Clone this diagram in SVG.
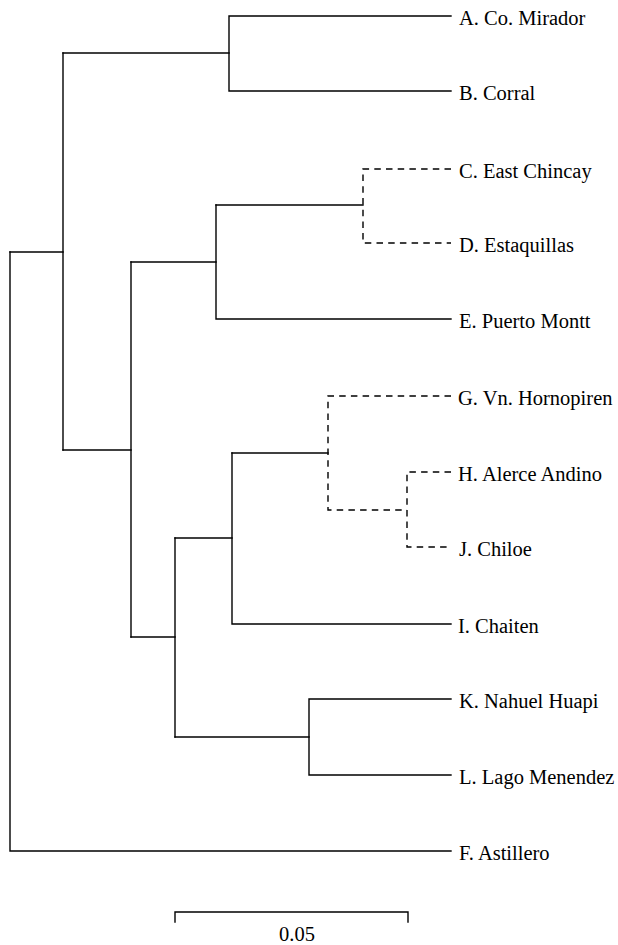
<svg xmlns="http://www.w3.org/2000/svg" width="618" height="945" viewBox="0 0 618 945">
<style>
.b{fill:none;stroke:#000;stroke-width:1.4;stroke-linecap:square}
.d{fill:none;stroke:#000;stroke-width:1.4;stroke-dasharray:6.5 5.2}
</style>
<rect width="618" height="945" fill="#fff"/>
<g id="connectors">
<path class="b" d="M451,16H229V91H451"/>
<path class="b" d="M63,53H229"/>
<path class="b" d="M216,205H363"/>
<path class="d" d="M451,169H363V243H451"/>
<path class="b" d="M216,205V319H451"/>
<path class="b" d="M131,262H216"/>
<path class="d" d="M451,396H328V510H407"/>
<path class="d" d="M451,472H407V547H451"/>
<path class="b" d="M232,453H328"/>
<path class="b" d="M232,453V624H451"/>
<path class="b" d="M175,538H232"/>
<path class="b" d="M451,699H309V775H451"/>
<path class="b" d="M175,737H309"/>
<path class="b" d="M175,538V737"/>
<path class="b" d="M131,637H175"/>
<path class="b" d="M131,262V637"/>
<path class="b" d="M63,450H131"/>
<path class="b" d="M63,53V450"/>
<path class="b" d="M10,252H63"/>
<path class="b" d="M10,252V851H451"/>
</g>
<g font-family="'Liberation Serif', 'DejaVu Serif', serif" font-size="20.5" fill="#000">
<g id="leaf-A"><text x="459" y="25">A. Co. Mirador</text></g>
<g id="leaf-B"><text x="459" y="99.5">B. Corral</text></g>
<g id="leaf-C"><text x="459" y="178">C. East Chincay</text></g>
<g id="leaf-D"><text x="459" y="251.5">D. Estaquillas</text></g>
<g id="leaf-E"><text x="459" y="327.5">E. Puerto Montt</text></g>
<g id="leaf-G"><text x="458" y="404.5">G. Vn. Hornopiren</text></g>
<g id="leaf-H"><text x="458" y="480.5">H. Alerce Andino</text></g>
<g id="leaf-J"><text x="459" y="555.5">J. Chiloe</text></g>
<g id="leaf-I"><text x="458" y="632.5">I. Chaiten</text></g>
<g id="leaf-K"><text x="459" y="707.5">K. Nahuel Huapi</text></g>
<g id="leaf-L"><text x="459" y="783.5">L. Lago Menendez</text></g>
<g id="leaf-F"><text x="459" y="859.5">F. Astillero</text></g>
<g id="scale">
<path class="b" d="M175,922V912H408V922"/>
<text x="297" y="941" text-anchor="middle">0.05</text>
</g>
</g>
</svg>
